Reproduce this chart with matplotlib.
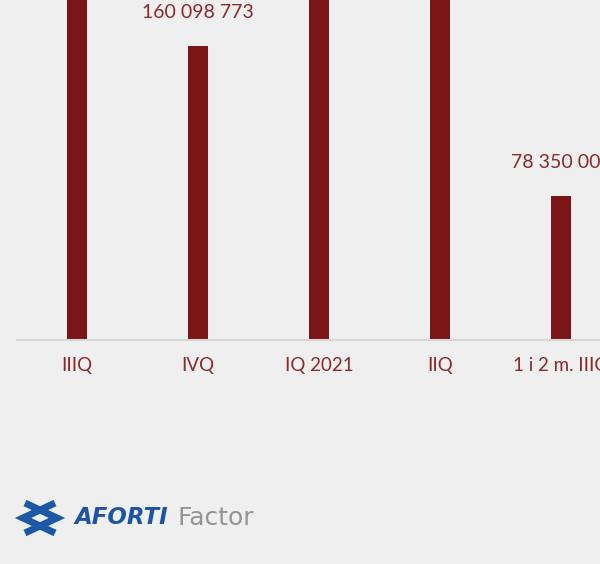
import matplotlib
matplotlib.use("Agg")
import matplotlib.pyplot as plt
from matplotlib.lines import Line2D

categories = ["IIIQ", "IVQ", "IQ 2021", "IIQ", "1 i 2 m. IIIQ"]
values = [196_000_000, 160_098_773, 242_000_000, 214_000_000, 78_350_000]

BG = "#efefef"
BAR = "#7a1416"
TXT = "#8a2a2c"
YMAX = 185.2e6

fig = plt.figure(figsize=(6, 5.64), dpi=100, facecolor=BG)
ax = fig.add_axes([17/600, (564-340)/564, 583/600, 340/564])
ax.set_facecolor(BG)

x = list(range(len(categories)))
ax.bar(x, values, width=0.165, color=BAR, zorder=2)
ax.set_xlim(-0.496, 4.322)
ax.set_ylim(0, YMAX)

for s in ["top", "right", "left"]:
    ax.spines[s].set_visible(False)
ax.spines["bottom"].set_color("#d6d6d6")
ax.spines["bottom"].set_linewidth(1.5)
ax.set_yticks([])
ax.set_xticks(x)
ax.set_xticklabels(categories, color=TXT, fontsize=13.5, family="Lato")
ax.tick_params(axis="x", length=0, pad=12)

for xi, v in zip(x, values):
    if v > YMAX:
        continue  # labels of these bars lie above the visible area
    lbl = f"{v:,}".replace(",", " ")
    ax.annotate(lbl, (xi, v), xytext=(0, 24), textcoords="offset points",
                ha="center", va="center", color=TXT, fontsize=14,
                family="Lato", annotation_clip=False)

# logo icon: a ">" and "<" ribbon overlapping
def fx(px):
    return px / 600
def fy(py):
    return 1 - py / 564
blue = "#1b58a6"
for pts in [[(25, 503), (57, 518), (25, 533)], [(55, 503), (23, 518), (55, 533)]]:
    fig.lines.append(Line2D([fx(a) for a, b in pts], [fy(b) for a, b in pts],
                            transform=fig.transFigure, color=blue, lw=5,
                            solid_joinstyle="miter", solid_capstyle="butt"))

fig.text(fx(74), fy(518), "AFORTI", color="#1d55a5", fontsize=16.5,
         fontweight="bold", style="italic", family="DejaVu Sans",
         ha="left", va="center")
fig.text(fx(178), fy(518), "Factor", color="#949494", fontsize=18,
         family="DejaVu Sans", ha="left", va="center")

fig.savefig("out.png", dpi=100, facecolor=BG)
